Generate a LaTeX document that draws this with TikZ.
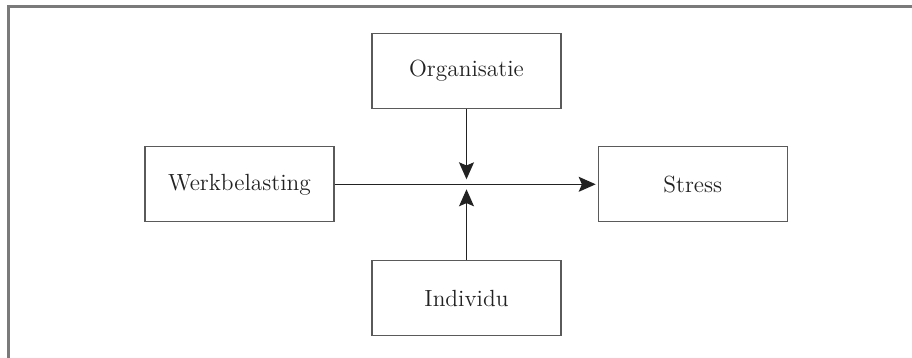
\documentclass[tikz,border=0pt]{standalone}
\usepackage{tikz}
\usetikzlibrary{arrows.meta}
\definecolor{ink}{HTML}{222222}
\definecolor{rim}{HTML}{5A5A5A}
\definecolor{frame}{HTML}{7A7A7A}

\tikzset{
  factor/.style={draw=rim, line width=0.6pt, text=ink, minimum width=94.5pt, minimum height=37.5pt, inner sep=0pt},
  link/.style={-{Stealth[length=8.5pt, width=7.5pt, inset=1.6pt]}, ink, line width=0.55pt}
}

\begin{document}
\begin{tikzpicture}[x=0.5pt, y=-0.5pt, font=\fontsize{11.7}{14}\selectfont]
    \useasboundingbox (0,0) rectangle (912,358);
    % open frame: top and left only
    \draw[frame, line width=1.1pt] (912,6.5) -- (8.5,6.5) -- (8.5,358);
    % the four boxes
    \node[factor] (werk) at (239.5,184.3) {Werkbelasting};
    \node[factor] (stress) at (692.8,184.3) {Stress};
    \node[factor] (org) at (466.5,70.8) {Organisatie};
    \node[factor] (ind) at (466.5,298) {Individu};
    % meeting point of the moderators
    \coordinate (above) at (466.5,179.3);
    \coordinate (below) at (466.5,189.3);
    \draw[link, shorten >=1pt] (werk) -- (stress);
    \draw[link] (org) -- (above);
    \draw[link] (ind) -- (below);
\end{tikzpicture}
\end{document}
